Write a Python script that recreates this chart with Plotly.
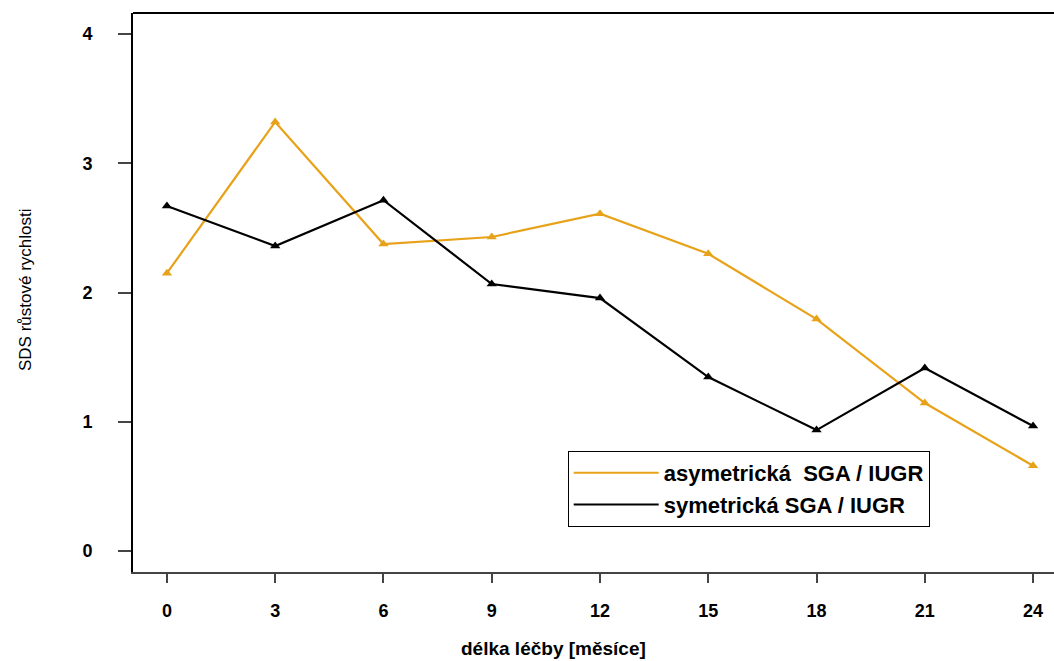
import plotly.graph_objects as go

months = [0, 3, 6, 9, 12, 15, 18, 21, 24]
asym = [2.15, 3.32, 2.375, 2.43, 2.61, 2.30, 1.795, 1.145, 0.66]
sym = [2.67, 2.36, 2.715, 2.066, 1.957, 1.346, 0.936, 1.416, 0.967]
y_ticks = [0, 1, 2, 3, 4]
x_ticks = months
names = ["asymetrická  SGA / IUGR", "symetrická SGA / IUGR"]
x_title = "délka léčby [měsíce]"
y_title = "SDS růstové rychlosti"
orange = "#E8A21A"
black = "#000000"

fig = go.Figure()
for vals, col in [(asym, orange), (sym, black)]:
    fig.add_trace(go.Scatter(x=months, y=vals, mode="lines+markers",
                             line=dict(color=col, width=2.2),
                             marker=dict(symbol="triangle-up", size=9, color=col),
                             showlegend=False))
for col, nm in [(orange, names[0]), (black, names[1])]:
    fig.add_trace(go.Scatter(x=[None], y=[None], mode="lines",
                             line=dict(color=col, width=2), name=nm))

font = "Liberation Sans, Arial, sans-serif"
fig.update_layout(
    width=1054, height=661,
    margin=dict(l=133, r=0, t=13, b=89),
    plot_bgcolor="white", paper_bgcolor="white",
    font=dict(family=font, color="black"),
    xaxis=dict(range=[-0.94, 24.58], tickvals=x_ticks, showgrid=False, zeroline=False,
               showline=True, linecolor="#444", linewidth=2,
               ticks="outside", ticklen=9, tickcolor="#444", tickwidth=2,
               tickfont=dict(size=18, family=font, weight="bold"),
               ticklabelstandoff=12),
    yaxis=dict(range=[-0.162, 4.163], tickvals=y_ticks, showgrid=False, zeroline=False,
               showline=True, linecolor="black", linewidth=2,
               ticks="outside", ticklen=13, tickcolor="#444", tickwidth=2,
               tickfont=dict(size=18, family=font, weight="bold"),
               ticklabelstandoff=22),
    legend=dict(x=0.472, y=0.2165, xanchor="left", yanchor="top",
                bordercolor="black", borderwidth=1, bgcolor="white",
                font=dict(size=22, family=font, weight="bold"),
                tracegroupgap=0, itemwidth=85),
    shapes=[dict(type="line", xref="paper", yref="paper", x0=0, x1=1, y0=1, y1=1,
                 line=dict(color="black", width=2))],
    annotations=[
        dict(text=x_title, xref="paper", yref="paper", x=(553 - 133) / 921, y=-(648 - 572) / 559,
             xanchor="center", yanchor="middle", showarrow=False,
             font=dict(size=19, family=font, weight="bold")),
        dict(text=y_title, xref="paper", yref="paper", x=-(133 - 25) / 921, y=(572 - 290) / 559,
             xanchor="center", yanchor="middle", showarrow=False, textangle=-90,
             font=dict(size=17, family=font)),
    ],
)
fig.write_html("out.html")
